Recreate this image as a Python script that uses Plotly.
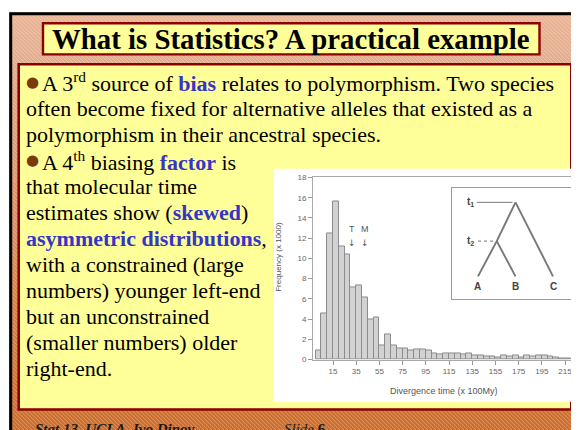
import plotly.graph_objects as go

W, H = 579, 430
OFF = 8  # the page's body margin shifts the figure by 8px

# ---------------- data ----------------
freq = [0.9, 4.6, 12.5, 15.6, 11.2, 10.4, 7.1, 7.3, 6.1, 4.0, 4.2, 1.4, 2.5, 1.4,
        1.1, 1.1, 0.9, 1.0, 1.0, 0.9, 0.6, 0.5, 0.6, 0.6, 0.6, 0.5, 0.6, 0.4,
        0.4, 0.3, 0.3, 0.2, 0.4, 0.3, 0.4, 0.2, 0.4, 0.3, 0.4, 0.4, 0.3, 0.2, 0.1, 0.1]
bin_width = 5
bin_centers = [bin_width / 2 + bin_width * i for i in range(len(freq))]

xtick_vals = [15, 35, 55, 75, 95, 115, 135, 155, 175, 195, 215]
ytick_vals = [0, 2, 4, 6, 8, 10, 12, 14, 16, 18]

marker_labels = ["T", "M"]
marker_x = [31, 43]

tree_names = ["t<sub>1</sub>", "t<sub>2</sub>", "A", "B", "C"]
tree_x = [2.0, 1.5, 1.0, 2.0, 3.0]
tree_h = [2.1, 1.0, 0.0, 0.0, 0.0]
tree_edges = [(0, 1), (1, 2), (1, 3), (0, 4)]

title_text = "What is Statistics? A practical example"
BLUE = "#3535C8"
BROWN = "#7A3A0B"
def blue(s):
    return f"<b><span style='color:{BLUE}'>{s}</span></b>"
body_lines = [
    "A 3<sup>rd</sup> source of " + blue("bias") + " relates to polymorphism. Two species",
    "often become fixed for alternative alleles that existed as a",
    "polymorphism in their ancestral species.",
    "A 4<sup>th</sup> biasing " + blue("factor") + " is",
    "that molecular time",
    "estimates show (" + blue("skewed") + ")",
    blue("asymmetric distributions") + ",",
    "with a constrained (large",
    "numbers) younger left-end",
    "but an unconstrained",
    "(smaller numbers) older",
    "right-end.",
]
bullet_lines = [0, 3]
footer_left = "<b><i>Stat 13, UCLA, Ivo Dinov</i></b>"
footer_right = "<i>Slide</i> <b>6</b>"

# ---------------- helpers ----------------
def px(p):
    return (p - OFF) / W
def py(p):
    return 1 - (p - OFF) / H

def hexrgb(h):
    h = h.lstrip("#")
    return [int(h[i:i + 2], 16) for i in (0, 2, 4)]

shapes = []
top_c, bot_c = hexrgb("#E8B597"), hexrgb("#CD6C2A")
n_strips = 40
y0s, y1s = 8, 440
for i in range(n_strips):
    a = y0s + (y1s - y0s) * i / n_strips
    b = y0s + (y1s - y0s) * (i + 1) / n_strips + 0.6
    t = (i + 0.5) / n_strips
    c = [round(top_c[k] + (bot_c[k] - top_c[k]) * t) for k in range(3)]
    shapes.append(dict(type="rect", xref="paper", yref="paper", x0=px(9), x1=px(577),
                       y0=py(b), y1=py(a), line=dict(width=0),
                       fillcolor=f"rgb({c[0]},{c[1]},{c[2]})", layer="below"))
for c in range(9 - 440, 577 - 8, 4):
    ya = max(8, 9 - c)
    yb = min(440, 577 - c)
    if ya < yb:
        shapes.append(dict(type="line", xref="paper", yref="paper",
                           x0=px(ya + c), y0=py(ya), x1=px(yb + c), y1=py(yb),
                           line=dict(color="rgba(255,255,255,0.28)", width=1), layer="below"))
shapes.append(dict(type="rect", xref="paper", yref="paper", x0=px(43), x1=px(539.5),
                   y0=py(51.3), y1=py(19.5), fillcolor="#FFFF99",
                   line=dict(color="#8B0000", width=2.4), layer="below"))
shapes.append(dict(type="rect", xref="paper", yref="paper", x0=px(18.7), x1=px(571.3),
                   y0=py(414), y1=py(61.3), fillcolor="#FFFF99",
                   line=dict(color="#8B0000", width=2.6), layer="below"))
shapes.append(dict(type="rect", xref="paper", yref="paper", x0=px(274), x1=px(574.5),
                   y0=py(406), y1=py(168), fillcolor="white",
                   line=dict(width=0), layer="below"))
shapes.append(dict(type="rect", xref="paper", yref="paper", x0=px(10.7), x1=px(575.8),
                   y0=py(460), y1=py(9.7), fillcolor="rgba(0,0,0,0)",
                   line=dict(color="black", width=3), layer="above"))

annotations = []
annotations.append(dict(text=f"<b>{title_text}</b>", x=px(291), y=py(36), xref="paper", yref="paper",
                        xanchor="center", yanchor="middle", showarrow=False,
                        font=dict(family="Liberation Serif", size=28.8, color="black")))
line_y0, line_dy = 80, 26.6
for i, t in enumerate(body_lines):
    yc = line_y0 + line_dy * i
    if i in bullet_lines:
        x0 = 39.5
        annotations.append(dict(text="●", x=px(32), y=py(yc - 1), xref="paper", yref="paper",
                                xanchor="center", yanchor="middle", showarrow=False,
                                font=dict(family="DejaVu Sans", size=15, color=BROWN)))
    else:
        x0 = 24
    annotations.append(dict(text=t, x=px(x0), y=py(yc), xref="paper", yref="paper",
                            xanchor="left", yanchor="middle", showarrow=False,
                            font=dict(family="Liberation Serif", size=22, color="black")))
annotations.append(dict(text=footer_left, x=px(33), y=py(424), xref="paper", yref="paper",
                        xanchor="left", yanchor="top", showarrow=False,
                        font=dict(family="Liberation Serif", size=15, color="#1a1a1a")))
annotations.append(dict(text=footer_right, x=px(282), y=py(424), xref="paper", yref="paper",
                        xanchor="left", yanchor="top", showarrow=False,
                        font=dict(family="Liberation Serif", size=15, color="#1a1a1a")))

small = dict(family="Liberation Sans", size=9, color="#555")
for lab, xv in zip(marker_labels, marker_x):
    annotations.append(dict(text=lab, x=xv, y=12.9, xref="x", yref="y", showarrow=False,
                            font=small, xanchor="center", yanchor="middle"))
    annotations.append(dict(text="↓", x=xv, y=11.5, xref="x", yref="y", showarrow=False,
                            font=dict(family="DejaVu Sans", size=9, color="#555"),
                            xanchor="center", yanchor="middle"))
annotations.append(dict(text="Divergence time (x 100My)", x=px(444), y=py(395), xref="paper", yref="paper",
                        showarrow=False, font=dict(family="Liberation Sans", size=9, color="#555"),
                        xanchor="center", yanchor="middle"))
annotations.append(dict(text="Frequency (x 1000)", x=px(279), y=py(258), xref="paper", yref="paper",
                        showarrow=False, textangle=-90,
                        font=dict(family="Liberation Sans", size=8, color="#555"),
                        xanchor="center", yanchor="middle"))
for k, name in enumerate(tree_names):
    if tree_h[k] == 0:
        annotations.append(dict(text=f"<b>{name}</b>", x=tree_x[k], y=tree_h[k] - 0.3, xref="x2", yref="y2",
                                showarrow=False, font=dict(family="Liberation Sans", size=10, color="#444"),
                                xanchor="center", yanchor="middle"))
    else:
        annotations.append(dict(text=f"<b>{name}</b>", x=0.8, y=tree_h[k], xref="x2", yref="y2",
                                showarrow=False, font=dict(family="Liberation Sans", size=10, color="#444"),
                                xanchor="center", yanchor="middle"))

fig = go.Figure()
fig.add_trace(go.Bar(x=bin_centers, y=freq, width=bin_width,
                     marker=dict(color="#D2D2D2", line=dict(color="#8C8C8C", width=1)),
                     xaxis="x", yaxis="y", showlegend=False, hoverinfo="skip"))
ex, ey = [], []
for a, b in tree_edges:
    ex += [tree_x[a], tree_x[b], None]
    ey += [tree_h[a], tree_h[b], None]
fig.add_trace(go.Scatter(x=ex, y=ey, mode="lines", line=dict(color="#777", width=1.9),
                         xaxis="x2", yaxis="y2", showlegend=False, hoverinfo="skip"))
fig.add_trace(go.Scatter(x=[0.97, tree_x[0] - 0.08], y=[tree_h[0], tree_h[0]], mode="lines",
                         line=dict(color="#777", width=1), xaxis="x2", yaxis="y2",
                         showlegend=False, hoverinfo="skip"))
fig.add_trace(go.Scatter(x=[1.0, tree_x[1] - 0.08], y=[tree_h[1], tree_h[1]], mode="lines",
                         line=dict(color="#777", width=1, dash="dot"), xaxis="x2", yaxis="y2",
                         showlegend=False, hoverinfo="skip"))

ppu = 1.16
x_lo = 15 - (333 - 313) / ppu
x_hi = 15 + (573 - 333) / ppu
tick_font = dict(family="Liberation Sans", size=8, color="#666")
tppu_x, tppu_y = 37.5, 36.0

fig.update_layout(
    width=W, height=H, margin=dict(l=0, r=0, t=0, b=0),
    paper_bgcolor="white", plot_bgcolor="rgba(0,0,0,0)",
    font=dict(family="Liberation Serif"),
    bargap=0, showlegend=False,
    shapes=shapes, annotations=annotations,
    xaxis=dict(domain=[px(313), px(573)], range=[x_lo, x_hi], anchor="y",
               showline=True, linecolor="#AAA", linewidth=1, mirror=True,
               ticks="outside", ticklen=4, tickcolor="#999", tickvals=xtick_vals,
               tickfont=tick_font, showgrid=False, zeroline=False, fixedrange=True),
    yaxis=dict(domain=[py(363), py(177)], range=[0, 18], anchor="x",
               showline=True, linecolor="#AAA", linewidth=1,
               ticks="outside", ticklen=4, tickcolor="#999", tickvals=ytick_vals,
               tickfont=tick_font, showgrid=False, zeroline=False, fixedrange=True),
    xaxis2=dict(domain=[px(452), px(579)], range=[1 - 26 / tppu_x, 1 + 101 / tppu_x], anchor="y2",
                showline=True, linecolor="#999", linewidth=1, mirror=True,
                showticklabels=False, ticks="", showgrid=False, zeroline=False),
    yaxis2=dict(domain=[py(301), py(188)], range=[-(301 - 278) / tppu_y, (278 - 188) / tppu_y], anchor="x2",
                showline=True, linecolor="#999", linewidth=1, mirror=False,
                showticklabels=False, ticks="", showgrid=False, zeroline=False),
)

fig.write_html("out.html")
